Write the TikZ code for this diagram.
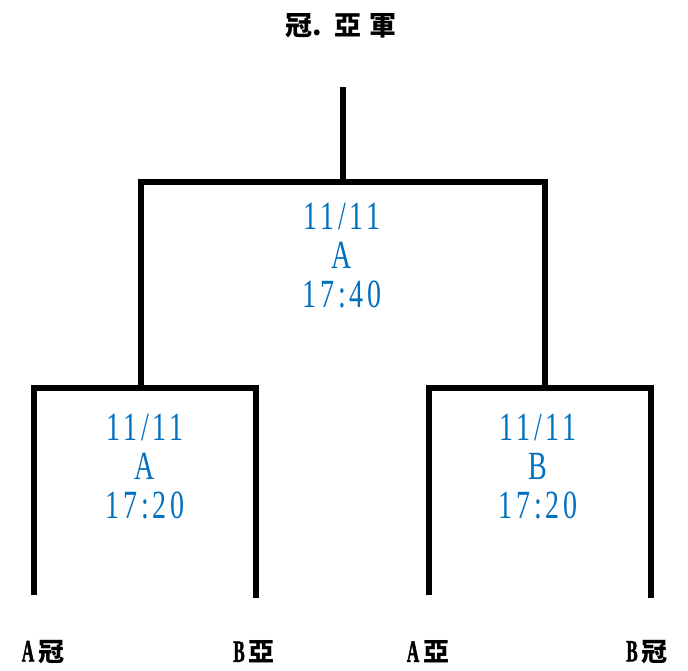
\documentclass[tikz,border=0pt]{standalone}
\usepackage{fontspec}
\newfontfamily\cjk{Noto Sans CJK TC}
\newfontfamily\latin[FakeStretch=0.7, LetterSpace=9]{Liberation Serif}
\newfontfamily\narrow[FakeStretch=0.55, FakeBold=1.5]{Liberation Serif}
\definecolor{gameblue}{RGB}{0,112,192}

\tikzset{
  bracket/.style={line width=6pt, line join=miter},
  gameinfo/.style={align=center, text=gameblue, inner sep=0pt,
    font=\fontsize{40}{39}\selectfont\latin},
  team/.style={inner sep=0pt, font=\fontsize{31}{31}\selectfont\bfseries\narrow},
  title/.style={inner sep=0pt, font=\fontsize{27}{27}\selectfont\bfseries\cjk}
}
\newcommand{\teamcjk}[1]{\hspace{4pt}{\fontsize{26}{26}\selectfont\cjk #1}}

\begin{document}
\begin{tikzpicture}[x=1pt, y=-1pt]
\useasboundingbox (0,0) rectangle (688,671);

% Final: top line and bracket
\coordinate (top) at (343,87);
\coordinate (fl) at (141,182);
\coordinate (fr) at (545,182);
\coordinate (fm) at (343,182);
\draw[bracket] (top) -- (fm);
\draw[bracket] (141,385) -- (fl) -- (fr) -- (545,385);

% Left semi-final
\draw[bracket] (34,595) -- (34,388) -- (256,388) -- (256,598);
% Right semi-final
\draw[bracket] (429,595) -- (429,388) -- (651,388) -- (651,598);

% Game info
\node[gameinfo] (final) at (342,256) {11/11\\A\\17:40};
\node[gameinfo] (semiA) at (145,467) {11/11\\A\\17:20};
\node[gameinfo] (semiB) at (538,467) {11/11\\B\\17:20};

% Title and teams
\node[title] (champ) at (341,26) {冠.\hspace{0.5em}亞\hspace{8pt}軍};
\node[team] (aone) at (43,652) {A\teamcjk{冠}};
\node[team] (btwo) at (254,652) {B\teamcjk{亞}};
\node[team] (atwo) at (428,652) {A\teamcjk{亞}};
\node[team] (bone) at (647,652) {B\teamcjk{冠}};
\end{tikzpicture}
\end{document}
